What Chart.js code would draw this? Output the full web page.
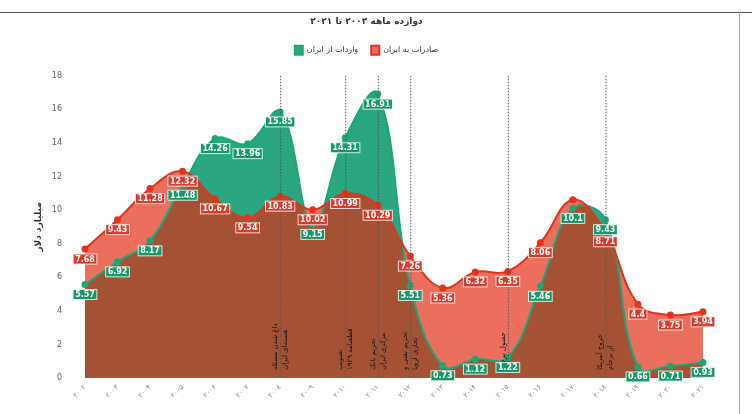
<!DOCTYPE html>
<html lang="fa">
<head>
<meta charset="utf-8">
<script src="https://cdn.jsdelivr.net/npm/chart.js@4.4.0/dist/chart.umd.min.js"></script>
<style>
  html, body { margin: 0; padding: 0; background: #fff; }
  #marco { position: relative; width: 752px; height: 414px; overflow: hidden; }
  #linea { position: absolute; left: 0; top: 12px; width: 752px; border-top: 1.5px solid #555; }
  #borde { position: absolute; left: 739px; top: 12px; height: 402px; border-left: 1px solid #aaa; }
</style>
</head>
<body>
<div id="marco">
  <canvas id="grafico" width="752" height="414"></canvas>
  <div id="linea"></div>
  <div id="borde"></div>
</div>
<script>
// datos
const anios = ['۲۰۰۲', '۲۰۰۳', '۲۰۰۴', '۲۰۰۵', '۲۰۰۶', '۲۰۰۷', '۲۰۰۸', '۲۰۰۹', '۲۰۱۰', '۲۰۱۱',
               '۲۰۱۲', '۲۰۱۳', '۲۰۱۴', '۲۰۱۵', '۲۰۱۶', '۲۰۱۷', '۲۰۱۸', '۲۰۱۹', '۲۰۲۰', '۲۰۲۱'];
const exportaciones = [7.68, 9.43, 11.28, 12.32, 10.67, 9.54, 10.83, 10.02, 10.99, 10.29,
                       7.26, 5.36, 6.32, 6.35, 8.06, 10.62, 8.71, 4.4, 3.75, 3.94];
const importaciones = [5.57, 6.92, 8.17, 11.48, 14.26, 13.96, 15.85, 9.15, 14.31, 16.91,
                       5.51, 0.73, 1.12, 1.22, 5.46, 10.1, 9.43, 0.66, 0.71, 0.93];
const ticksY = [0, 2, 4, 6, 8, 10, 12, 14, 16, 18];
const eventos = [
    { anio: '۲۰۰۸', texto: ['داغ شدن مسئله', 'هسته‌ای ایران'] },
    { anio: '۲۰۱۰', texto: ['تصویب', 'قطعنامه ۱۹۲۹'] },
    { anio: '۲۰۱۱', texto: ['تحریم بانک', 'مرکزی ایران'] },
    { anio: '۲۰۱۲', texto: ['تحریم نفتی و', 'تجاری اروپا'] },
    { anio: '۲۰۱۵', texto: ['حصول برجام'] },
    { anio: '۲۰۱۸', texto: ['خروج آمریکا', 'از برجام'] }
];

const fuente = '"DejaVu Sans", sans-serif';

// espacio extra debajo de la leyenda
const pluginEspacio = {
    id: 'espacio',
    beforeInit(chart) {
        const fitOriginal = chart.legend.fit;
        chart.legend.fit = function () {
            fitOriginal.call(this);
            this.height += 11;
        };
    }
};

// lineas verticales de eventos
const pluginEventos = {
    id: 'eventos',
    afterDatasetsDraw(chart) {
        const ctx = chart.ctx;
        const area = chart.chartArea;
        const x = chart.scales.x;
        ctx.save();
        eventos.forEach(ev => {
            const px = x.getPixelForValue(anios.indexOf(ev.anio));
            ctx.strokeStyle = '#555';
            ctx.lineWidth = 1;
            ctx.setLineDash([1.5, 1.5]);
            ctx.beginPath();
            ctx.moveTo(px + 0.5, area.top);
            ctx.lineTo(px + 0.5, area.bottom);
            ctx.stroke();

            ctx.save();
            ctx.translate(px, area.bottom - 8);
            ctx.rotate(-Math.PI / 2);
            ctx.fillStyle = '#111';
            ctx.font = '7px ' + fuente;
            ctx.direction = 'rtl';
            ctx.textAlign = 'left';
            ctx.textBaseline = 'middle';
            ctx.fillText(ev.texto[0], 0, -5);
            if (ev.texto.length > 1) {
                ctx.fillText(ev.texto[1], 0, 5);
            }
            ctx.restore();
        });
        ctx.restore();
    }
};

// etiquetas de valores
const pluginEtiquetas = {
    id: 'etiquetas',
    afterDatasetsDraw(chart) {
        const ctx = chart.ctx;
        const metaVerde = chart.getDatasetMeta(0);
        const metaRojo = chart.getDatasetMeta(1);
        ctx.save();
        ctx.setLineDash([]);
        ctx.font = 'bold 8px ' + fuente;
        ctx.textAlign = 'center';
        ctx.textBaseline = 'middle';

        const dibujar = (pt, valor, fondo) => {
            const txt = String(valor);
            const w = ctx.measureText(txt).width + 4;
            const h = 10;
            const y = pt.y + 10;
            ctx.fillStyle = fondo;
            ctx.fillRect(pt.x - w / 2, y - h / 2, w, h);
            ctx.strokeStyle = 'rgba(255,255,255,0.8)';
            ctx.lineWidth = 1;
            ctx.strokeRect(pt.x - w / 2, y - h / 2, w, h);
            ctx.fillStyle = '#fff';
            ctx.fillText(txt, pt.x, y + 0.5);
        };

        // si choca con la etiqueta verde no se dibuja
        metaRojo.data.forEach((pt, i) => {
            const verde = metaVerde.data[i];
            if (Math.abs(verde.y - pt.y) < 10) return;
            dibujar(pt, exportaciones[i], '#e0392a');
        });
        metaVerde.data.forEach((pt, i) => {
            dibujar(pt, importaciones[i], '#14996a');
        });
        ctx.restore();
    }
};

const ctx = document.getElementById('grafico').getContext('2d');

window.graficaComercio = new Chart(ctx, {
    type: 'line',
    data: {
        labels: anios,
        datasets: [{
            label: 'واردات از ایران',
            data: importaciones,
            order: 2,
            borderColor: '#1aa876',
            backgroundColor: '#2aa680',
            pointBackgroundColor: '#1aa876',
            borderWidth: 2,
            pointRadius: 2.5,
            tension: 0.4,
            fill: 'origin'
        }, {
            label: 'صادرات به ایران',
            data: exportaciones,
            order: 1,
            borderColor: '#e3321f',
            backgroundColor: 'rgba(227, 40, 15, 0.67)',
            pointBackgroundColor: '#e3321f',
            borderWidth: 2,
            pointRadius: 2.5,
            tension: 0.4,
            fill: 'origin'
        }]
    },
    options: {
        responsive: false,
        animation: false,
        layout: { padding: { top: 10, left: 30, right: 49, bottom: 0 } },
        plugins: {
            filler: { drawTime: 'beforeDatasetsDraw' },
            tooltip: { enabled: false },
            title: {
                display: true,
                text: 'دوازده ماهه ۲۰۰۲ تا ۲۰۲۱',
                color: '#333',
                font: { family: fuente, size: 9, weight: 'bold' },
                padding: { top: 6, bottom: 6 }
            },
            legend: {
                reverse: true,
                labels: {
                    color: '#333',
                    font: { family: fuente, size: 8 },
                    boxWidth: 8,
                    boxHeight: 9,
                    padding: 13
                }
            }
        },
        scales: {
            x: {
                grid: { display: false, drawTicks: false },
                border: { display: false },
                ticks: {
                    color: '#888',
                    font: { family: fuente, size: 7 },
                    minRotation: 45,
                    maxRotation: 45,
                    padding: 5
                },
                afterFit: s => { s.height = 36; }
            },
            y: {
                min: 0,
                max: 18,
                grid: { display: false, drawTicks: false },
                border: { display: false },
                afterBuildTicks: s => { s.ticks = ticksY.map(v => ({ value: v })); },
                ticks: {
                    color: '#666',
                    font: { family: fuente, size: 8 },
                    padding: 23
                },
                title: {
                    display: true,
                    text: 'میلیارد دلار',
                    color: '#333',
                    font: { family: fuente, size: 9, weight: 'bold' },
                    padding: { top: 3, bottom: 0 }
                },
                afterFit: s => { s.width = 55; }
            }
        }
    },
    plugins: [pluginEspacio, pluginEventos, pluginEtiquetas]
});
</script>
</body>
</html>
